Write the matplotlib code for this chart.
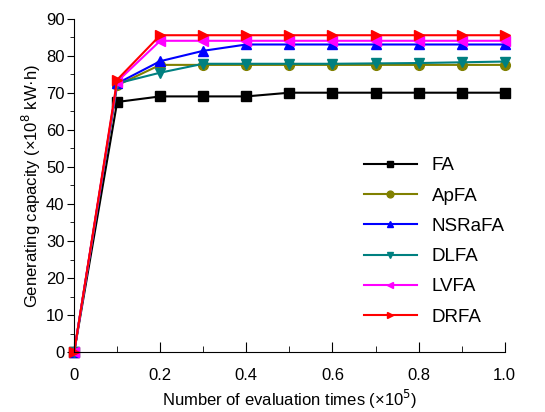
import matplotlib.pyplot as plt
from matplotlib.ticker import MultipleLocator

plt.rcParams['font.family'] = ['Liberation Sans', 'DejaVu Sans']

# evaluation times (x10^5)
evals = [0, 0.1, 0.2, 0.3, 0.4, 0.5, 0.6, 0.7, 0.8, 0.9, 1.0]

fa = [0, 67.5, 69, 69, 69, 70, 70, 70, 70, 70, 70]
apfa = [0, 72, 77.5, 77.5, 77.5, 77.5, 77.5, 77.5, 77.5, 77.5, 77.5]
nsrafa = [0, 72.5, 78.5, 81.3, 83, 83, 83, 83, 83, 83, 83]
dlfa = [0, 72.5, 75.4, 77.8, 77.8, 77.8, 77.8, 77.9, 78, 78.2, 78.4]
lvfa = [0, 73, 84, 84, 84, 84, 84, 84, 84, 84, 84]
drfa = [0, 73.5, 85.5, 85.5, 85.5, 85.5, 85.5, 85.5, 85.5, 85.5, 85.5]

names = ['FA', 'ApFA', 'NSRaFA', 'DLFA', 'LVFA', 'DRFA']
series = [fa, apfa, nsrafa, dlfa, lvfa, drfa]
colors = ['black', '#808000', 'blue', '#008080', 'magenta', 'red']
markers = ['s', 'o', '^', 'v', '<', '>']

fig = plt.figure(figsize=(5.45, 4.12), dpi=100)
ax = fig.add_axes([0.136, 0.145, 0.79, 0.81])

for name, vals, c, m in zip(names, series, colors, markers):
    ax.plot(evals, vals, color=c, marker=m, markersize=7, linewidth=1.5,
            label=name, clip_on=False)

ax.set_xlim(0, 1.0)
ax.set_ylim(0, 90)
ax.xaxis.set_minor_locator(MultipleLocator(0.1))
ax.yaxis.set_major_locator(MultipleLocator(10))
ax.yaxis.set_minor_locator(MultipleLocator(5))
ax.set_xticks([0, 0.2, 0.4, 0.6, 0.8, 1.0])
ax.set_xticklabels(['0', '0.2', '0.4', '0.6', '0.8', '1.0'])

ax.spines['top'].set_visible(False)
ax.spines['right'].set_visible(False)
ax.tick_params(axis='x', which='both', direction='in', labelsize=12, pad=11)
ax.tick_params(axis='y', which='both', direction='out', labelsize=12, pad=2)
ax.tick_params(axis='x', which='major', length=7)
ax.tick_params(axis='x', which='minor', length=4)
ax.tick_params(axis='y', which='major', length=5)
ax.tick_params(axis='y', which='minor', length=3)

ax.set_xlabel('Number of evaluation times (×10$^5$)', fontsize=12, labelpad=4)
ax.set_ylabel('Generating capacity (×10$^8$ kW·h)', fontsize=12, labelpad=2)

ax.legend(loc='upper left', bbox_to_anchor=(0.656, 0.607), frameon=False,
          fontsize=13.5, handlelength=2.8, labelspacing=0.7, markerscale=0.7,
          borderaxespad=0)

fig.savefig('out.png', dpi=100)
